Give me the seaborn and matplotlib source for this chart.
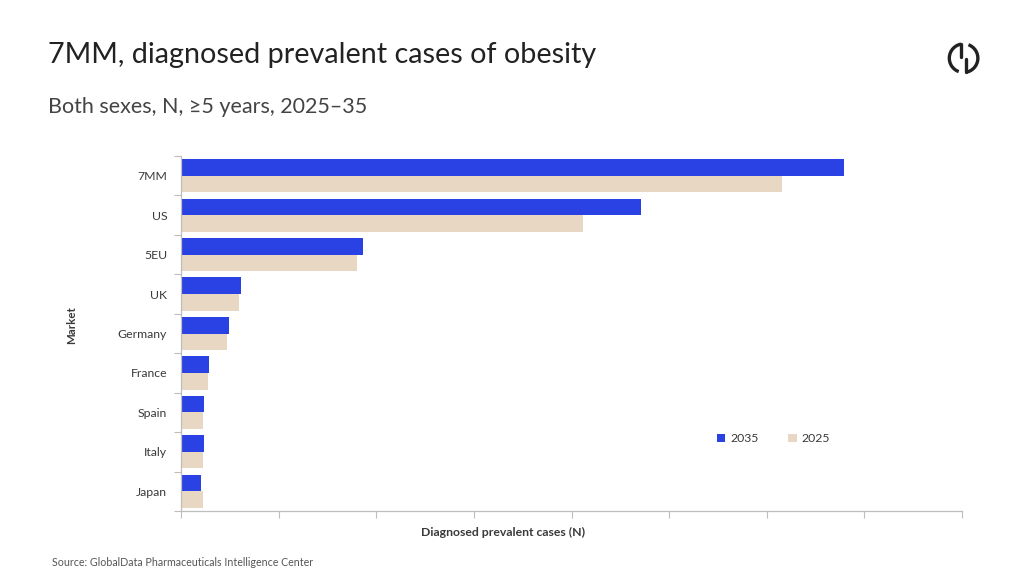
import numpy as np
import pandas as pd
import matplotlib
matplotlib.use('Agg')
import matplotlib.pyplot as plt
import seaborn as sns
from matplotlib.patches import Arc, Patch

# values (x axis has no labels, tick step = 10)
markets = ['7MM', 'US', '5EU', 'UK', 'Germany', 'France', 'Spain', 'Italy', 'Japan']
cases_2035 = [67.9, 47.1, 18.6, 6.1, 4.9, 2.9, 2.4, 2.4, 2.0]
cases_2025 = [61.6, 41.2, 18.0, 5.9, 4.7, 2.8, 2.25, 2.2, 2.25]
years = ['2035', '2025']
colors = ['#2A41E3', '#E8D8C3']

df = pd.DataFrame({
    'Market': markets * 2,
    'Year': ['2035'] * len(markets) + ['2025'] * len(markets),
    'Cases': cases_2035 + cases_2025,
})

sns.set_theme(style='white')
plt.rcParams['font.family'] = ['Lato', 'DejaVu Sans']
text_col = '#3A3A3A'
axis_col = '#BDBDBD'

fig = plt.figure(figsize=(10.24, 5.76), dpi=100)
ax = fig.add_axes([0.1768, 0.1128, 0.7627, 0.6164])

sns.barplot(data=df, y='Market', x='Cases', hue='Year', order=markets,
            hue_order=years, palette=colors, orient='h', width=0.84,
            saturation=1, legend=False, linewidth=0, ax=ax)

ax.set_xlim(0, 80)
ax.set_ylim(8.5, -0.5)
ax.set_xticks(np.arange(0, 81, 10))
ax.set_xticklabels([])
ax.tick_params(axis='x', direction='out', length=5, width=0.8, color=axis_col, bottom=True)
ax.set_yticks(range(len(markets)))
ax.set_yticklabels(markets, fontsize=8.8, color=text_col)
ax.tick_params(axis='y', length=0, pad=10)
ax.set_yticks(np.arange(-0.5, len(markets), 1), minor=True)
ax.tick_params(axis='y', which='minor', length=5, width=0.8, color=axis_col, left=True)

for s in ['top', 'right']:
    ax.spines[s].set_visible(False)
for s in ['left', 'bottom']:
    ax.spines[s].set_color(axis_col)
    ax.spines[s].set_linewidth(0.9)

ax.set_xlabel('')
ax.set_ylabel('')
fig.text(0.491, 0.075, 'Diagnosed prevalent cases (N)', fontsize=8.8, fontweight='bold',
         color=text_col, ha='center', va='center')
fig.text(0.070, 0.435, 'Market', rotation=90, fontsize=8.3, fontweight='bold',
         color=text_col, ha='center', va='center')

handles = [Patch(facecolor=c, edgecolor='none', label=y) for c, y in zip(colors, years)]
ax.legend(handles=handles, loc='center left', bbox_to_anchor=(0.672, 0.203),
          ncol=2, frameon=False, fontsize=8.8, handlelength=0.7, handleheight=0.7,
          handletextpad=0.4, columnspacing=2.4, labelcolor=text_col)

fig.text(0.047, 0.905, '7MM, diagnosed prevalent cases of obesity', fontsize=20.7,
         color='#222222', ha='left', va='center')
fig.text(0.047, 0.815, 'Both sexes, N, \u22655 years, 2025\u201335', fontsize=15.5,
         color='#444444', ha='left', va='center')
fig.text(0.051, 0.024, 'Source: GlobalData Pharmaceuticals Intelligence Center',
         fontsize=7.7, color='#555555', ha='left', va='center')

# logo
lx, ly = 0.941, 0.899
logo = fig.add_axes([lx - 0.02, ly - 0.035, 0.04, 0.07])
logo.set_xlim(-1.2, 1.2)
logo.set_ylim(-1.2, 1.2)
logo.set_aspect('equal')
logo.axis('off')
logo.add_patch(Arc((0, 0), 1.7, 1.7, theta1=100, theta2=250, lw=2.4, color='#222222'))
logo.add_patch(Arc((0, 0), 1.7, 1.7, theta1=280, theta2=70, lw=2.4, color='#222222'))
logo.plot([-0.15, -0.15], [0.84, 0.05], color='#222222', lw=2.4)
logo.plot([0.15, 0.15], [-0.05, -0.84], color='#222222', lw=2.4)

fig.savefig('out.png', dpi=100)
